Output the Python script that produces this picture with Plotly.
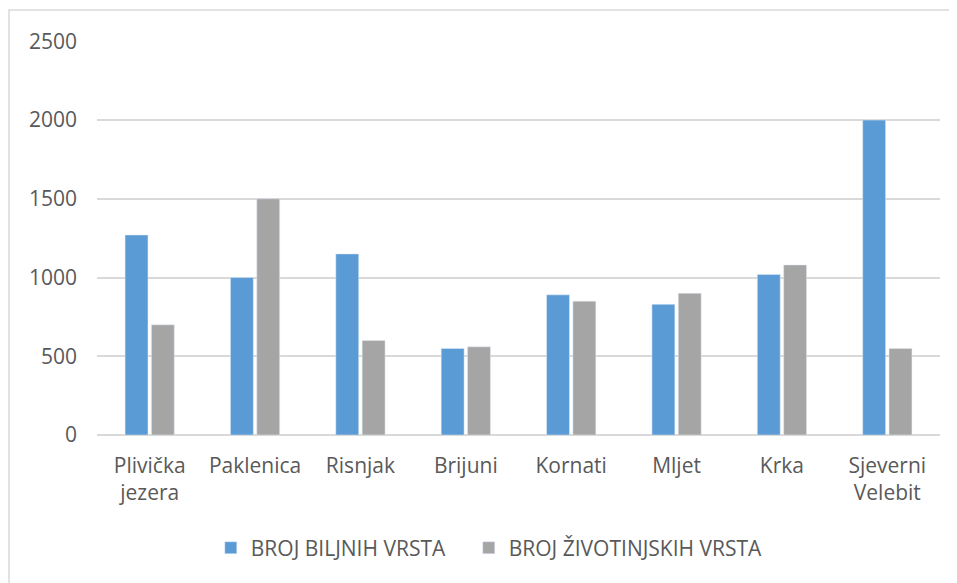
import plotly.graph_objects as go

categories = ["Plivička<br>jezera", "Paklenica", "Risnjak", "Brijuni", "Kornati", "Mljet", "Krka", "Sjeverni<br>Velebit"]
biljne = [1270, 1000, 1150, 550, 890, 830, 1020, 2000]
zivotinjske = [700, 1500, 600, 560, 850, 900, 1080, 550]
series_names = ["BROJ BILJNIH VRSTA", "BROJ ŽIVOTINJSKIH VRSTA"]
y_ticks = [0, 500, 1000, 1500, 2000, 2500]

font_family = "Open Sans, Lato, sans-serif"
text_color = "#595959"
grid_color = "#D9D9D9"

fig = go.Figure()
fig.add_trace(go.Bar(x=categories, y=biljne, name=series_names[0], marker_color="#5B9BD5", legend="legend"))
fig.add_trace(go.Bar(x=categories, y=zivotinjske, name=series_names[1], marker_color="#A5A5A5", legend="legend2"))

leg_common = dict(orientation="h", xanchor="left", y=-0.287, yanchor="middle",
                  font=dict(size=21, color=text_color), bgcolor="rgba(0,0,0,0)")

# page body has an 8px margin, so the figure is shifted by 8px
fig.update_layout(
    width=949, height=575,
    margin=dict(l=89, r=17, t=33, b=148),
    paper_bgcolor="white", plot_bgcolor="white",
    barmode="group", bargap=0.5, bargroupgap=0.13,
    font=dict(family=font_family, size=21, color=text_color),
    legend=dict(x=0.135, **leg_common),
    legend2=dict(x=0.441, **leg_common),
    showlegend=True,
)
fig.update_yaxes(range=[0, 2502], tickvals=y_ticks, showgrid=True, gridcolor=grid_color, gridwidth=2,
                 zeroline=True, zerolinecolor=grid_color, zerolinewidth=2, showline=False,
                 ticks="", ticklabelstandoff=19, fixedrange=True)
fig.update_xaxes(showgrid=False, showline=False, ticks="", ticklabelstandoff=16)

fig.add_shape(type="rect", xref="paper", yref="paper",
              x0=(1 - 89) / 843, x1=(990 - 89) / 843, y0=(427 - 620) / 394, y1=(427 - 2) / 394,
              line=dict(color="#D9D9D9", width=1.5), fillcolor="rgba(0,0,0,0)", layer="below")

fig.write_html("out.html")
